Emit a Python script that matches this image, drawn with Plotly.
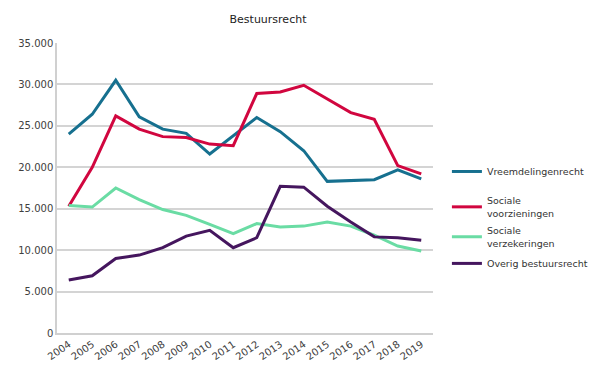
import plotly.graph_objects as go

years = [str(y) for y in range(2004, 2020)]
vreemdelingenrecht = [24000, 26400, 30500, 26100, 24600, 24100, 21600, 23800, 26000, 24300, 22000, 18300, 18400, 18500, 19700, 18600]
sociale_voorzieningen = [15300, 20000, 26200, 24600, 23700, 23600, 22800, 22600, 28900, 29100, 29900, 28200, 26600, 25800, 20200, 19200]
sociale_verzekeringen = [15400, 15200, 17500, 16100, 14900, 14200, 13100, 12000, 13200, 12800, 12900, 13400, 12900, 11800, 10500, 9900]
overig_bestuursrecht = [6400, 6900, 9000, 9400, 10300, 11700, 12400, 10300, 11500, 17700, 17600, 15300, 13400, 11600, 11500, 11200]
y_ticks = [0, 5000, 10000, 15000, 20000, 25000, 30000, 35000]
y_tick_labels = ["0", "5.000", "10.000", "15.000", "20.000", "25.000", "30.000", "35.000"]

series = [
    ("Vreemdelingenrecht", vreemdelingenrecht, "#16708f"),
    ("Sociale<br>voorzieningen", sociale_voorzieningen, "#d1063f"),
    ("Sociale<br>verzekeringen", sociale_verzekeringen, "#6adca4"),
    ("Overig bestuursrecht", overig_bestuursrecht, "#45165e"),
]
legend_names = ["legend", "legend2", "legend3", "legend4"]
legend_y = [0.607, 0.50, 0.397, 0.29]

font = "DejaVu Sans, Verdana, sans-serif"
fig = go.Figure()
for i, (name, vals, col) in enumerate(series):
    fig.add_trace(go.Scatter(x=years, y=vals, name=name, mode="lines",
                             line=dict(color=col, width=3), legend=legend_names[i]))

# page has an 8px body margin, so the figure is drawn 8px smaller and offset
W, H = 592, 363
layout = dict(
    width=W, height=H,
    margin=dict(l=49, r=167, t=35, b=38, autoexpand=False),
    paper_bgcolor="white", plot_bgcolor="white",
    font=dict(family=font, size=10, color="#404040"),
    title=dict(text="Bestuursrecht", x=260 / W, xanchor="center", y=1 - 11 / H, yanchor="middle",
               font=dict(family=font, size=11, color="#222222")),
    showlegend=True,
    xaxis=dict(type="category", range=[-0.5, len(years) - 0.5], tickangle=-35, showgrid=False,
               showline=True, linecolor="#d0d0d0", linewidth=1.5, ticks="", automargin=False,
               tickfont=dict(size=10, color="#404040")),
    yaxis=dict(range=[0, 35000], tickvals=y_ticks, ticktext=y_tick_labels,
               showgrid=True, gridcolor="#d4d4d4", gridwidth=1.5, showline=True, linecolor="#d0d0d0",
               linewidth=1.5, zeroline=False, ticks="", automargin=False,
               tickfont=dict(size=10, color="#404040")),
)
for ln, ly in zip(legend_names, legend_y):
    layout[ln] = dict(x=1.037, xanchor="left", y=ly, yanchor="top",
                      font=dict(family=font, size=9.5, color="#333333"), bgcolor="rgba(0,0,0,0)")
fig.update_layout(**layout)
fig.write_html("out.html")
